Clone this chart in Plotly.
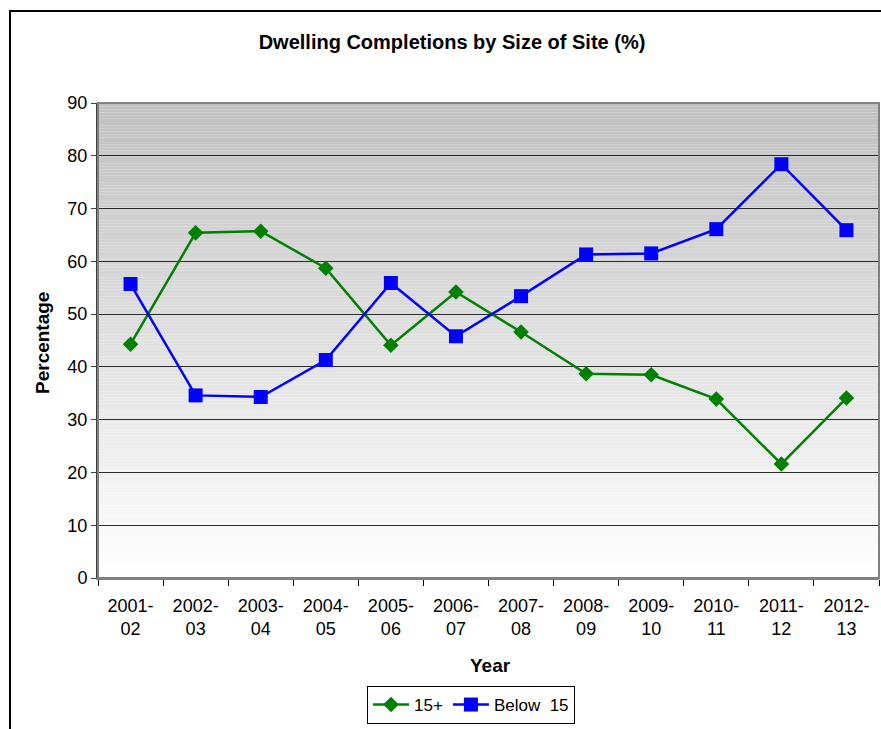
import plotly.graph_objects as go

# Dwelling completions by size of site, share of total (%)
years = ["2001-<br>02", "2002-<br>03", "2003-<br>04", "2004-<br>05", "2005-<br>06",
         "2006-<br>07", "2007-<br>08", "2008-<br>09", "2009-<br>10", "2010-<br>11",
         "2011-<br>12", "2012-<br>13"]
site_15_plus = [44.3, 65.4, 65.7, 58.7, 44.1, 54.2, 46.6, 38.7, 38.5, 33.9, 21.6, 34.1]
site_below_15 = [55.7, 34.6, 34.3, 41.3, 55.9, 45.8, 53.4, 61.3, 61.5, 66.1, 78.4, 65.9]

y_ticks = [0, 10, 20, 30, 40, 50, 60, 70, 80, 90]

W, H = 881, 729
ML, MR, MT, MB = 98, 2, 103, 151
PW, PH = W - ML - MR, H - MT - MB

def px_x(p):
    return (p - ML) / PW

def px_y(p):
    return (H - MB - p) / PH

FONT = "Liberation Sans, Arial, sans-serif"

fig = go.Figure()

fig.add_trace(go.Scatter(
    x=years, y=site_15_plus, name="15+", mode="lines+markers",
    line=dict(color="#008000", width=2.5),
    marker=dict(symbol="diamond", size=12, color="#008000"),
))
fig.add_trace(go.Scatter(
    x=years, y=site_below_15, name="Below  15", mode="lines+markers",
    line=dict(color="#0000FF", width=2.5),
    marker=dict(symbol="square", size=14, color="#0000FF"),
))

shapes = []
# vertical grey-to-white gradient behind the plot area
n = 150
for i in range(n):
    f = (i + 0.5) / n
    v = int(round(255 - 63 * f))
    shapes.append(dict(
        type="rect", xref="x domain", yref="y domain",
        x0=0, x1=1, y0=i / n, y1=(i + 1) / n,
        fillcolor=f"rgb({v},{v},{v})", line=dict(width=0), layer="below",
    ))
# plot area border
shapes.append(dict(type="rect", xref="paper", yref="paper", x0=0, x1=1, y0=0, y1=1,
                   line=dict(color="#808080", width=2), layer="above"))
# chart frame
shapes.append(dict(type="rect", xref="paper", yref="paper",
                   x0=px_x(10), x1=px_x(W + 20), y0=px_y(W + 40), y1=px_y(11),
                   line=dict(color="#000000", width=2), fillcolor="rgba(0,0,0,0)",
                   layer="above"))

annotations = [
    dict(text="<b>Year</b>", xref="paper", yref="paper", x=px_x(490), y=px_y(665),
         xanchor="center", yanchor="middle", showarrow=False,
         font=dict(family=FONT, size=19, color="#000000")),
    dict(text="<b>Percentage</b>", xref="paper", yref="paper", x=px_x(42), y=px_y(343),
         xanchor="center", yanchor="middle", showarrow=False, textangle=-90,
         font=dict(family=FONT, size=19, color="#000000")),
]

fig.update_layout(
    width=W, height=H,
    margin=dict(l=ML, r=MR, t=MT, b=MB),
    paper_bgcolor="#ffffff", plot_bgcolor="rgba(0,0,0,0)",
    font=dict(family=FONT, size=18, color="#000000"),
    title=dict(text="<b>Dwelling Completions by Size of Site (%)</b>",
               x=px_x(452), xref="paper", xanchor="center",
               y=1 - 42 / H, yref="container", yanchor="middle",
               font=dict(family=FONT, size=20, color="#000000")),
    showlegend=True,
    legend=dict(orientation="h", x=px_x(471), xanchor="center",
                y=px_y(686), yanchor="top",
                bordercolor="#000000", borderwidth=1, bgcolor="#ffffff",
                font=dict(family=FONT, size=17, color="#000000"),
                itemwidth=36, tracegroupgap=0),
    shapes=shapes,
    annotations=annotations,
    xaxis=dict(
        type="category", range=[-0.5, 11.5], tickson="boundaries",
        ticks="outside", ticklen=6, tickcolor="#000000", tickwidth=1,
        showgrid=False, showline=True, linecolor="#808080", linewidth=2,
        ticklabelstandoff=10, zeroline=False,
        tickfont=dict(family=FONT, size=18, color="#000000"),
    ),
    yaxis=dict(
        range=[0, 90], tickvals=y_ticks, ticks="outside", ticklen=5,
        tickcolor="#404040", tickwidth=1,
        showgrid=True, gridcolor="#2a2a2a", gridwidth=1,
        showline=True, linecolor="#404040", linewidth=2, zeroline=False,
        tickfont=dict(family=FONT, size=18, color="#000000"),
    ),
)

fig.write_html("out.html")
